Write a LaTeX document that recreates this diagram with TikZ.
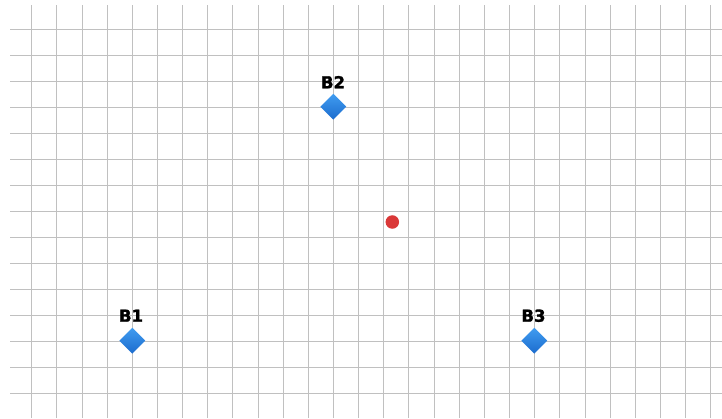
\documentclass[tikz,border=0pt]{standalone}
\usepackage{fontspec}
\newfontfamily\labelfont{DejaVu Sans Bold}[FakeBold=1.6]
\usetikzlibrary{shapes.geometric}
\definecolor{gridgray}{RGB}{192,192,192}
\definecolor{bluetop}{RGB}{64,156,240}
\definecolor{bluebot}{RGB}{28,108,206}
\definecolor{dotred}{RGB}{218,56,56}
\tikzset{
  gridline/.style={draw=gridgray, line width=0.95pt},
  marker/.style={diamond, minimum width=26pt, minimum height=26pt, inner sep=0pt, top color=bluetop, bottom color=bluebot, draw=none},
  blabel/.style={anchor=base, inner sep=0pt, font=\labelfont\fontsize{16.5}{16.5}\selectfont, text=black},
  reddot/.style={circle, fill=dotred, minimum size=13.5pt, inner sep=0pt, draw=none}
}
\begin{document}
\begin{tikzpicture}[x=1pt,y=1pt]
\useasboundingbox (0,0) rectangle (722,418);
\fill[white] (0,0) rectangle (722,418);
% vertical grid lines
\foreach \k in {0,...,27} {
  \draw[gridline] ({31.7+25.15*\k},0) -- ({31.7+25.15*\k},413);
}
% horizontal grid lines
\foreach \k in {0,...,14} {
  \draw[gridline] (10,{418-29.3-26*\k}) -- (722,{418-29.3-26*\k});
}
% markers
\node[marker] (b1) at (132.3,77.3) {};
\node[marker] (b2) at (333.3,311.3) {};
\node[marker] (b3) at (534.3,77.3) {};
\node[blabel] (l1) at (131,96.3) {B1};
\node[blabel] (l2) at (333,329.7) {B2};
\node[blabel] (l3) at (533.5,96.3) {B3};
\node[reddot] (dot) at (392.3,196) {};
\end{tikzpicture}
\end{document}
